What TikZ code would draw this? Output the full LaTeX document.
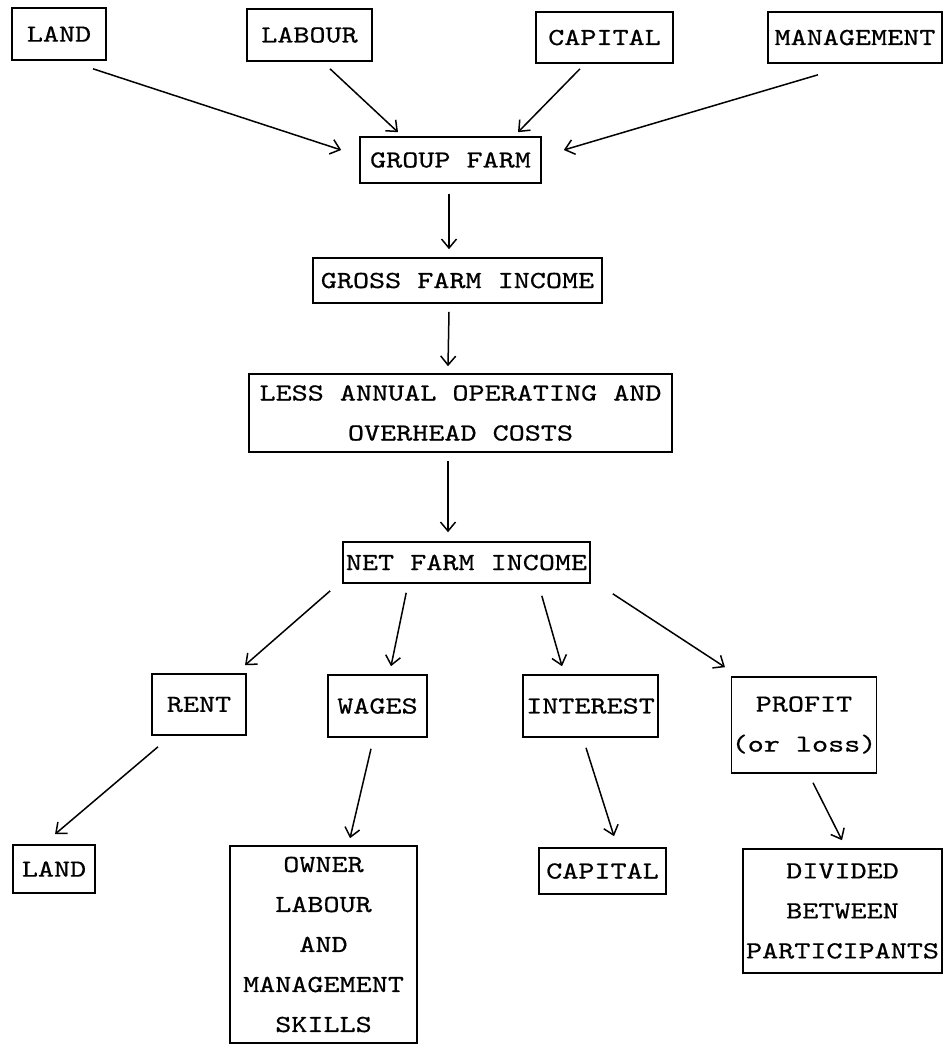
\documentclass[tikz,border=0pt]{standalone}
\usepackage{fontspec}
\setmonofont[FakeStretch=1.25,FakeBold=0.6]{lmmono10-regular.otf}
\usetikzlibrary{arrows.meta}
\begin{document}
\begin{tikzpicture}[x=1pt,y=-1pt,
  box/.style={draw,line width=1.6pt,inner sep=0pt,align=center,
    font=\ttfamily\fontsize{24.5}{40}\selectfont},
  conn/.style={line width=1.5pt,
    -{Straight Barb[length=9pt,width=15pt,line width=1.5pt]}}]
\useasboundingbox (0,0) rectangle (943,1044);
% top row
\node[box,minimum width=94pt,minimum height=52pt] (landT) at (59,34) {LAND};
\node[box,minimum width=125pt,minimum height=52pt] (labourT) at (309.5,35) {LABOUR};
\node[box,minimum width=137pt,minimum height=51pt] (capitalT) at (604.5,37.5) {CAPITAL};
\node[box,minimum width=174pt,minimum height=51pt] (mgmtT) at (855,37.5) {MANAGEMENT};
% central column
\node[box,minimum width=181pt,minimum height=46pt] (group) at (450.5,160) {GROUP FARM};
\node[box,minimum width=289pt,minimum height=45pt] (gross) at (457.5,280.5) {GROSS FARM INCOME};
\node[box,minimum width=423pt,minimum height=78pt] (less) at (460.5,413) {LESS ANNUAL OPERATING AND\\OVERHEAD COSTS};
\node[box,minimum width=247pt,minimum height=41pt] (net) at (466.5,562.5) {NET FARM INCOME};
% distribution
\node[box,minimum width=94pt,minimum height=61pt] (rent) at (199,704.5) {RENT};
\node[box,minimum width=99pt,minimum height=62pt] (wages) at (377.5,706) {WAGES};
\node[box,minimum width=135pt,minimum height=62pt] (interest) at (590.5,706) {INTEREST};
\node[box,minimum width=142pt,minimum height=96pt] (profit) at (804,725) {PROFIT\\(or loss)};
% recipients
\node[box,minimum width=82pt,minimum height=48pt] (landB) at (54,869) {LAND};
\node[box,minimum width=187pt,minimum height=197pt] (owner) at (323.5,944.5) {OWNER\\LABOUR\\AND\\MANAGEMENT\\SKILLS};
\node[box,minimum width=127pt,minimum height=46pt] (capitalB) at (602.5,871) {CAPITAL};
\node[box,minimum width=199pt,minimum height=124pt] (divided) at (842.5,911) {DIVIDED\\BETWEEN\\PARTICIPANTS};
% connectors
\draw[conn] ([shift={(34,8)}]landT.south) -- ([shift={(-18,-10)}]group.west);
\draw[conn] ([shift={(20.5,7)}]labourT.south) -- ([shift={(-52.5,-4)}]group.north);
\draw[conn] ([shift={(-24.5,5)}]capitalT.south) -- ([shift={(67.5,-4)}]group.north);
\draw[conn] ([shift={(-37,11)}]mgmtT.south) -- ([shift={(22,-10)}]group.east);
\draw[conn] ([shift={(-1.5,10)}]group.south) -- ([shift={(-8.5,-8)}]gross.north);
\draw[conn] ([shift={(-8.5,8)}]gross.south) -- ([shift={(-12.5,-7)}]less.north);
\draw[conn] ([shift={(-12.5,8)}]less.south) -- ([shift={(-18.5,-9)}]net.north);
\draw[conn] ([shift={(-12,7)}]net.south west) -- ([shift={(46,-8)}]rent.north);
\draw[conn] ([shift={(64,9)}]net.south west) -- ([shift={(13.5,-8)}]wages.north);
\draw[conn] ([shift={(-49,12)}]net.south east) -- ([shift={(-28.5,-8)}]interest.north);
\draw[conn] ([shift={(22,10)}]net.south east) -- ([shift={(-79,-9)}]profit.north);
\draw[conn] ([shift={(-41,11)}]rent.south) -- ([shift={(1,-10)}]landB.north);
\draw[conn] ([shift={(-6.5,11)}]wages.south) -- ([shift={(26.5,-7)}]owner.north);
\draw[conn] ([shift={(-4.5,10)}]interest.south) -- ([shift={(11.5,-11)}]capitalB.north);
\draw[conn] ([shift={(9,9)}]profit.south) -- ([shift={(-0.5,-8)}]divided.north);
\end{tikzpicture}
\end{document}
